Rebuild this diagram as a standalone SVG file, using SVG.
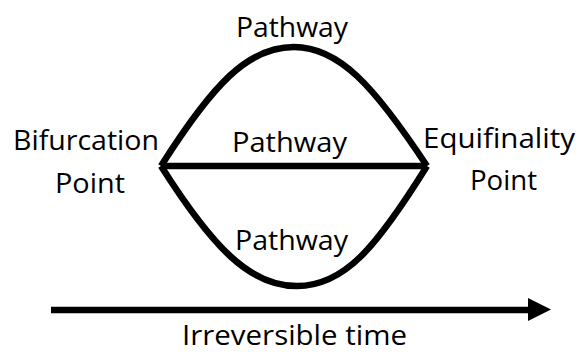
<svg xmlns="http://www.w3.org/2000/svg" width="578" height="354" viewBox="0 0 578 354">
<style>
.t{font-family:"Open Sans","Noto Sans","Liberation Sans",sans-serif;font-size:27px;fill:#000}
.p{fill:none;stroke:#000;stroke-width:6.5;stroke-linejoin:miter;stroke-linecap:butt}
</style>
<rect width="578" height="354" fill="#fff"/>
<g id="connectors">
<path class="p" d="M161,166 C213,84 248,47 294,47 C339,47 374,86 427,166"/>
<path class="p" d="M161,166 H427"/>
<path class="p" d="M161,166 C213,248 250,286 297,286 C344,286 376,248 427,166"/>
<path class="p" d="M51,310 H530"/>
<polygon points="528,298 551,309.5 528,321" fill="#000"/>
</g>
<g id="bifurcation">
<text class="t" x="13" y="150" textLength="146" lengthAdjust="spacingAndGlyphs">Bifurcation</text>
<text class="t" x="55" y="193" textLength="70" lengthAdjust="spacingAndGlyphs">Point</text>
</g>
<g id="equifinality">
<text class="t" x="423" y="148" textLength="152" lengthAdjust="spacingAndGlyphs">Equifinality</text>
<text class="t" x="470" y="190" textLength="67" lengthAdjust="spacingAndGlyphs">Point</text>
</g>
<g id="pathway-top">
<text class="t" x="236" y="37" textLength="112" lengthAdjust="spacingAndGlyphs">Pathway</text>
</g>
<g id="pathway-middle">
<text class="t" x="232" y="152" textLength="115" lengthAdjust="spacingAndGlyphs">Pathway</text>
</g>
<g id="pathway-bottom">
<text class="t" x="235" y="250" textLength="113" lengthAdjust="spacingAndGlyphs">Pathway</text>
</g>
<g id="time">
<text class="t" x="182" y="345" textLength="225" lengthAdjust="spacingAndGlyphs">Irreversible time</text>
</g>
</svg>
